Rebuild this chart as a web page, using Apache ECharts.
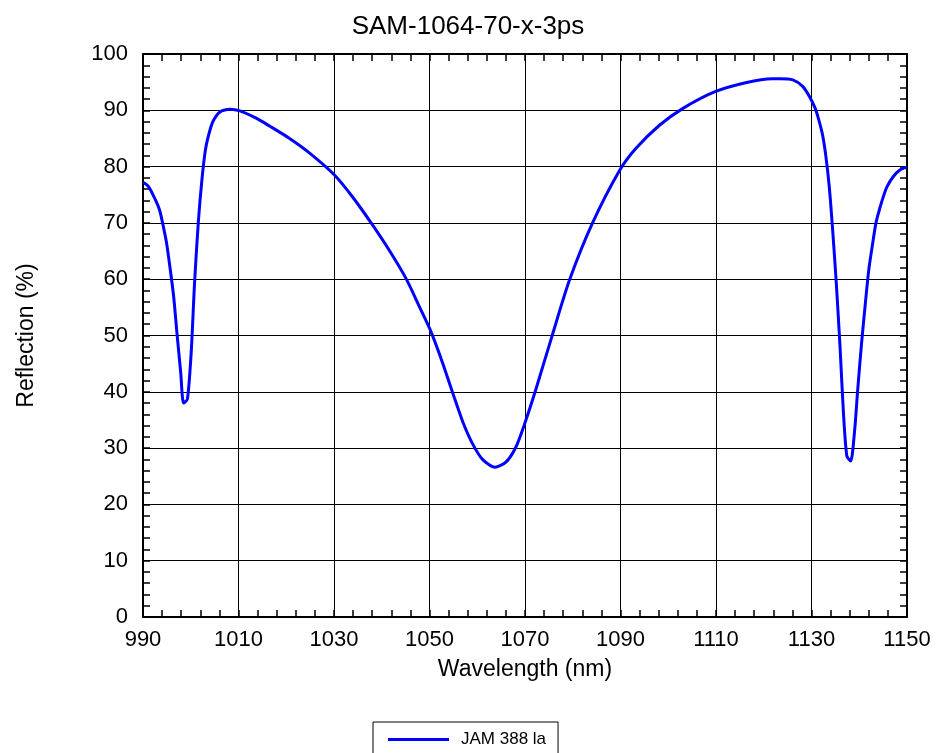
<!DOCTYPE html>
<html>
<head>
<meta charset="utf-8">
<script src="https://cdn.jsdelivr.net/npm/echarts@6/dist/echarts.min.js"></script>
<style>
html,body{margin:0;padding:0;background:#fff;}
#chart{width:936px;height:753px;}
</style>
</head>
<body>
<div id="chart"></div>
<script>
const chartTitle = 'SAM-1064-70-x-3ps';
const seriesName = 'JAM 388 la';
const xAxisName = 'Wavelength (nm)';
const yAxisName = 'Reflection (%)';

const wavelength = [
  990, 991.2, 992.7, 993.5, 994.1, 994.9, 995.6, 996.4, 997.1, 997.9,
  998.5, 999.3, 1000.1, 1000.8, 1001.6, 1002.4, 1003.1, 1003.9, 1004.7, 1006.1,
  1008.2, 1010.3, 1013.7, 1016.5, 1020.7, 1024.9, 1030, 1033.9, 1038.1, 1041.6,
  1045.1, 1047.9, 1050.2, 1052.8, 1054.9, 1057.0, 1059.0, 1061.1, 1063.7, 1066.0,
  1068.1, 1070.0, 1072.3, 1075.8, 1079.3, 1084.1, 1089.8, 1093.2, 1098.1, 1103.0,
  1109.8, 1116.2, 1121.8, 1123.3, 1126.1, 1128.2, 1129.6, 1130.8, 1131.5, 1132.3,
  1133.0, 1133.7, 1134.4, 1135.2, 1136.0, 1136.7, 1137.4, 1138.2, 1139.0, 1139.7,
  1140.5, 1141.3, 1142.0, 1142.8, 1143.5, 1144.3, 1145.1, 1145.8, 1147.1, 1148.5,
  1150
];
const reflection = [
  77.2, 76.4, 73.9, 72.2, 70.0, 66.6, 62.4, 57.1, 50.5, 43.4,
  38.0, 38.7, 47.1, 59.4, 70.3, 78.2, 83.1, 86.1, 88.1, 89.7,
  90.2, 89.9, 88.6, 87.2, 85.0, 82.4, 78.6, 74.6, 69.6, 65.1,
  60.1, 55.1, 50.9, 45.0, 39.7, 34.6, 30.8, 28.0, 26.6, 27.5,
  30.2, 34.5, 40.5, 50.3, 59.8, 69.9, 79.3, 83.2, 87.3, 90.3,
  93.3, 94.9, 95.6, 95.6, 95.4, 94.2, 92.4, 90.3, 88.4, 85.7,
  81.9, 76.6, 69.1, 59.2, 47.6, 36.1, 28.6, 27.7, 32.8, 40.6,
  48.8, 55.9, 61.7, 66.3, 70.0, 72.6, 74.8, 76.4, 78.2, 79.4,
  79.9
];

const X_MIN = 990, X_MAX = 1150, X_STEP = 20;
const Y_MIN = 0, Y_MAX = 100, Y_STEP = 10;

const FONT = 'Liberation Sans, Arial, Helvetica, sans-serif';
const seriesData = wavelength.map((w, i) => [w, reflection[i]]);

function frameAxis(extra) {
  return Object.assign({
    axisLine: { show: true, onZero: false, lineStyle: { color: '#000', width: 2 } },
    axisTick: { show: true, inside: true, length: 7, lineStyle: { color: '#000', width: 1.5 } },
    minorTick: { show: true, splitNumber: 5, length: 7, lineStyle: { color: '#000', width: 1.5 } },
    splitLine: { show: false },
    minorSplitLine: { show: false }
  }, extra);
}

const chart = echarts.init(document.getElementById('chart'), null, { renderer: 'canvas' });
chart.setOption({
  backgroundColor: '#fff',
  animation: false,
  title: {
    text: chartTitle,
    left: 'center',
    top: 9,
    textStyle: { fontFamily: FONT, fontSize: 26, fontWeight: 'normal', color: '#000' }
  },
  grid: { left: 143, right: 29, top: 54, bottom: 136, containLabel: false, outerBoundsMode: 'none' },
  legend: {
    data: [{ name: seriesName, icon: 'rect' }],
    left: 373,
    top: 722,
    orient: 'horizontal',
    itemWidth: 61,
    itemHeight: 3,
    padding: [9, 12, 20, 15],
    borderColor: '#000',
    borderWidth: 1,
    textStyle: { fontFamily: FONT, fontSize: 17, color: '#000', padding: [0, 0, 0, 7] }
  },
  xAxis: [
    frameAxis({
      type: 'value', position: 'bottom', min: X_MIN, max: X_MAX, interval: X_STEP,
      name: xAxisName, nameLocation: 'middle', nameGap: 41,
      nameTextStyle: { fontFamily: FONT, fontSize: 23, color: '#000' },
      axisLabel: { show: true, margin: 12, fontFamily: FONT, fontSize: 22, color: '#000',
        formatter: v => String(v) },
      splitLine: { show: true, lineStyle: { color: '#000', width: 1 } }
    }),
    frameAxis({
      type: 'value', position: 'top', min: X_MIN, max: X_MAX, interval: X_STEP,
      axisLabel: { show: false }
    })
  ],
  yAxis: [
    frameAxis({
      type: 'value', position: 'left', min: Y_MIN, max: Y_MAX, interval: Y_STEP,
      name: yAxisName, nameLocation: 'middle', nameGap: 105, nameRotate: 90,
      nameTextStyle: { fontFamily: FONT, fontSize: 23, color: '#000' },
      axisLabel: { show: true, margin: 15, fontFamily: FONT, fontSize: 22, color: '#000',
        formatter: v => String(v) },
      splitLine: { show: true, lineStyle: { color: '#000', width: 1 } }
    }),
    frameAxis({
      type: 'value', position: 'right', min: Y_MIN, max: Y_MAX, interval: Y_STEP,
      axisLabel: { show: false }
    })
  ],
  series: [{
    name: seriesName,
    type: 'line',
    xAxisIndex: 0,
    yAxisIndex: 0,
    data: seriesData,
    symbol: 'none',
    smooth: 0.25,
    lineStyle: { color: '#0000ff', width: 3 },
    itemStyle: { color: '#0000ff' },
    z: 5
  }]
});
</script>
</body>
</html>
